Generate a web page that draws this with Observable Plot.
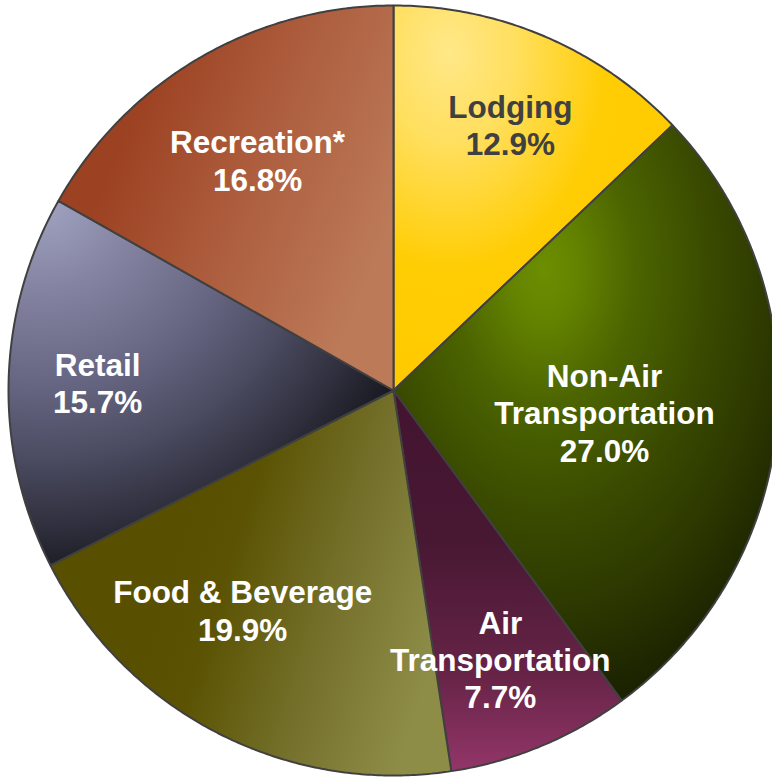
<!DOCTYPE html>
<html>
<head>
<meta charset="utf-8">
<script src="https://cdn.jsdelivr.net/npm/d3@7"></script>
<script src="https://cdn.jsdelivr.net/npm/@observablehq/plot@0.6"></script>
<style>
  html, body { margin: 0; padding: 0; background: #ffffff; overflow: hidden; }
  #chart svg { display: block; }
</style>
</head>
<body>
<div id="chart"></div>
<script>
// ---- data ----
const categories = ["Lodging", "Non-Air Transportation", "Air Transportation", "Food & Beverage", "Retail", "Recreation*"];
const labelLines = ["Lodging", "Non-Air\nTransportation", "Air\nTransportation", "Food & Beverage", "Retail", "Recreation*"];
const shares = [12.9, 27.0, 7.7, 19.9, 15.7, 16.8];

// ---- layout / style (not data) ----
const labelRadius = [0.755, 0.551, 0.750, 0.692, 0.769, 0.695]; // fraction of pie radius
const labelTurn = [0.5, 0.9, 0.8, 7.3, 0.3, -0.3];              // degrees, nudge from mid-angle
const textColors = ["#404040", "#ffffff", "#ffffff", "#ffffff", "#ffffff", "#ffffff"];
const gradients = [
  {type: "radial", attrs: {cx: 0.2, cy: 0.12, r: 0.8, fx: 0.2, fy: 0.12},
   stops: [[0, "#FFE888"], [0.3, "#FFDF5E"], [0.7, "#FFCD05"], [1, "#FFCB00"]]},
  {type: "radial", attrs: {cx: 0.39, cy: 0.25, r: 0.85, fx: 0.39, fy: 0.25},
   stops: [[0, "#6C8E00"], [0.1, "#648400"], [0.28, "#4C6400"], [0.5, "#3A4B00"], [0.7, "#2C3800"], [0.88, "#1C2400"], [1, "#121700"]]},
  {type: "linear", attrs: {x1: 0, y1: 0, x2: 0, y2: 1},
   stops: [[0, "#431430"], [0.4, "#481833"], [0.75, "#672447"], [1, "#933669"]]},
  {type: "linear", attrs: {x1: 0.33, y1: 0.35, x2: 1, y2: 0.55},
   stops: [[0, "#585000"], [0.2, "#5B5303"], [0.6, "#75712C"], [1, "#8E8D48"]]},
  {type: "radial", attrs: {cx: 0.09, cy: 0.0, r: 1.1, fx: 0.09, fy: 0.0},
   stops: [[0, "#A2A2C2"], [0.22, "#8484A2"], [0.45, "#676784"], [0.65, "#4A4A60"], [0.82, "#2E2E3C"], [1, "#101016"]]},
  {type: "linear", attrs: {x1: 0.25, y1: 0.2, x2: 1, y2: 0.55},
   stops: [[0, "#9C4122"], [0.45, "#AC5C3C"], [1, "#BC7A59"]]}
];

// ---- geometry derived from the data ----
const arcs = d3.pie().sort(null).value(d => d)(shares);
const slices = arcs.map((p, i) => {
  const span = p.endAngle - p.startAngle;
  const n = Math.max(4, Math.ceil(span / (Math.PI / 360)));
  const pts = [{category: categories[i], x: 0, y: 0}];
  for (let k = 0; k <= n; k++) {
    const a = p.startAngle + span * k / n;
    pts.push({category: categories[i], x: Math.sin(a), y: Math.cos(a)});
  }
  pts.push({category: categories[i], x: 0, y: 0});
  return pts;
});
const labels = arcs.map((p, i) => {
  const a = (p.startAngle + p.endAngle) / 2 + labelTurn[i] * Math.PI / 180;
  return {
    x: labelRadius[i] * Math.sin(a),
    y: labelRadius[i] * Math.cos(a),
    text: `${labelLines[i]}\n${shares[i].toFixed(1)}%`,
    color: textColors[i]
  };
});

const chart = Plot.plot({
  width: 772,
  height: 777,
  margin: 0,
  style: {background: "#ffffff", overflow: "hidden"},
  x: {domain: [-1, 1], range: [8, 778], axis: null},
  y: {domain: [-1, 1], range: [775, 5], axis: null},
  color: {type: "identity"},
  marks: [
    ...slices.map((pts, i) => Plot.line(pts, {
      x: "x", y: "y",
      fill: `url(#slice-grad-${i})`,
      stroke: "#404040",
      strokeWidth: 2,
      strokeLinejoin: "miter",
      curve: "linear"
    })),
    Plot.text(labels, {
      x: "x", y: "y", text: "text",
      fill: "color",
      fontSize: 31.5,
      fontWeight: "bold",
      fontFamily: "'Liberation Sans', Arial, Helvetica, sans-serif",
      lineAnchor: "middle",
      lineHeight: 1.18,
      textAnchor: "middle"
    })
  ]
});

// gradient definitions
const defs = d3.select(chart).insert("defs", ":first-child");
gradients.forEach((g, i) => {
  const el = defs.append(g.type === "radial" ? "radialGradient" : "linearGradient")
    .attr("id", `slice-grad-${i}`)
    .attr("gradientUnits", "objectBoundingBox");
  Object.entries(g.attrs).forEach(([k, v]) => el.attr(k, v));
  g.stops.forEach(([o, c]) => el.append("stop").attr("offset", o).attr("stop-color", c));
});

document.getElementById("chart").append(chart);
</script>
</body>
</html>
